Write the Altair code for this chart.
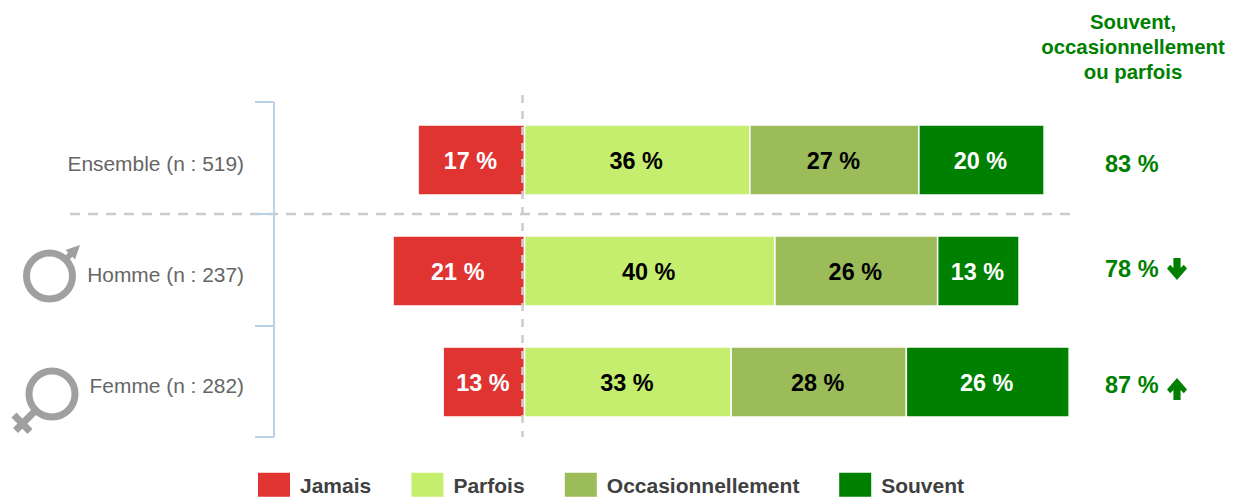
import altair as alt
import pandas as pd

groups = ["Ensemble (n : 519)", "Homme (n : 237)", "Femme (n : 282)"]
answers = ["Jamais", "Parfois", "Occasionnellement", "Souvent"]
colors = ["#e03433", "#c6ee6e", "#9cbb59", "#008000"]
jamais = [17, 21, 13]
parfois = [36, 40, 33]
occasion = [27, 26, 28]
souvent = [20, 13, 26]
totals = ["83 %", "78 %", "87 %"]
header = ["Souvent,", "occasionnellement", "ou parfois"]

rows = []
for i, g in enumerate(groups):
    rows.append(dict(group=g, answer="Jamais", v=jamais[i], x0=0, x1=-jamais[i]))
    c = 0
    for name, arr in (("Parfois", parfois), ("Occasionnellement", occasion), ("Souvent", souvent)):
        rows.append(dict(group=g, answer=name, v=arr[i], x0=c, x1=c + arr[i]))
        c += arr[i]
df = pd.DataFrame(rows)
df["mid"] = (df.x0 + df.x1) / 2
df["label"] = df.v.astype(str) + " %"

W, H = 1218, 489
OX, OY = 8, 8
ZERO, UNIT = 524.5 - OX, 6.26
xs = alt.Scale(domain=[-ZERO / UNIT, (W - ZERO) / UNIT], range=[0, W], nice=False, zero=False)
ys = alt.Scale(domain=groups, range=[104.5 - OY, 437.5 - OY], paddingInner=0.37, paddingOuter=0.185)
X = lambda f: alt.X(f, type="quantitative", scale=xs, axis=None)
Y = alt.Y("group:N", scale=ys, axis=None)
FONT = "Liberation Sans"
GREY = "#a0a0a0"
GREEN = "#008000"


def seg(x1, y1, x2, y2, color, width, dash=None):
    kw = dict(color=color, strokeWidth=width)
    if dash:
        kw["strokeDash"] = dash
    return alt.Chart().mark_rule(**kw).encode(
        x=alt.value(x1 - OX), x2=alt.value(x2 - OX), y=alt.value(y1 - OY), y2=alt.value(y2 - OY)
    )


def sym(x, y, path, size, color):
    return alt.Chart().mark_point(shape=path, filled=True, fill=color, size=size, opacity=1, strokeWidth=0).encode(
        x=alt.value(x - OX), y=alt.value(y - OY)
    )


def ring(x, y, r, width):
    return alt.Chart().mark_point(shape="circle", filled=False, stroke=GREY, strokeWidth=width, size=(2 * r) ** 2, opacity=1).encode(
        x=alt.value(x - OX), y=alt.value(y - OY)
    )


bars = alt.Chart(df).mark_rect(stroke="white", strokeWidth=1.5).encode(
    x=X("x0"), x2=alt.X2("x1"), y=Y,
    color=alt.Color("answer:N", scale=alt.Scale(domain=answers, range=colors), legend=alt.Legend(
        title=None, orient="none", legendX=258 - OX, legendY=471 - OY, direction="horizontal", columns=4,
        gridAlign="none", columnPadding=39.4, symbolType="M-1,-0.89H1V0.61H-1Z", symbolSize=1024,
        symbolStrokeWidth=0, labelFont=FONT, labelFontSize=21, labelFontWeight="bold", labelColor="#404040",
        labelOffset=10, labelLimit=300,
    )),
)

dark = alt.Chart(df).transform_filter("datum.answer=='Jamais'||datum.answer=='Souvent'").mark_text(
    font=FONT, fontSize=23.4, fontWeight="bold", color="white", dy=1.5, dx=-1).encode(x=X("mid"), y=Y, text="label:N")
light = alt.Chart(df).transform_filter("datum.answer=='Parfois'||datum.answer=='Occasionnellement'").mark_text(
    font=FONT, fontSize=23.4, fontWeight="bold", color="black", dy=1.5, dx=-1).encode(x=X("mid"), y=Y, text="label:N")

cats = alt.Chart(pd.DataFrame({"group": groups})).mark_text(
    font=FONT, fontSize=20.9, color="#666666", align="right", dy=4.5).encode(x=alt.value(244 - OX), y=Y, text="group:N")

layers = [bars, dark, light, cats]

# dashed guides
layers += [seg(522.5, 95, 522.5, 437, "#cccccc", 2.5, [8, 8]), seg(70, 214, 1072, 214, "#cccccc", 2.5, [10, 8])]

# bracket
BL = "#bcd0e6"
layers += [seg(274, 102, 274, 437, BL, 2)]
for yy in (102, 214, 326, 437):
    layers.append(seg(255, yy, 274, yy, BL, 2))

# right-hand column
for t, yy in zip(totals, (165, 270, 386)):
    layers.append(alt.Chart(pd.DataFrame({"t": [t]})).mark_text(
        font=FONT, fontSize=23.5, fontWeight="bold", color=GREEN, align="left").encode(
        x=alt.value(1105 - OX), y=alt.value(yy - OY), text="t:N"))
layers.append(alt.Chart().mark_text(text=header, font=FONT, fontSize=20.4, fontWeight="bold", color=GREEN,
                                    align="center", lineHeight=25).encode(x=alt.value(1133 - OX), y=alt.value(23 - OY)))
DOWN = "M-0.36,-1.1H0.36V-0.1L0.68,-0.42L1,-0.06L0,1.1L-1,-0.06L-0.68,-0.42L-0.36,-0.1Z"
UP = "M-0.36,1.1H0.36V0.1L0.68,0.42L1,0.06L0,-1.1L-1,0.06L-0.68,0.42L-0.36,0.1Z"
layers += [sym(1177, 269, DOWN, 400, GREEN), sym(1177, 389, UP, 400, GREEN)]

# gender icons
layers += [ring(49.5, 276, 23, 7), seg(64, 261, 74, 251, GREY, 6),
           sym(71, 254, "M0.9,-0.9L-0.55,-0.4L0.4,0.55Z", 400, GREY)]
layers += [ring(52, 394, 23, 7), seg(34, 412, 15.5, 430.5, GREY, 7), seg(14, 415, 30, 431.5, GREY, 7)]

chart = alt.layer(*layers).properties(
    width=W, height=H, padding=0, autosize=alt.AutoSizeParams(type="none")
).configure_view(stroke=None)

chart.save("out.html", embed_options={"renderer": "svg", "actions": False})
